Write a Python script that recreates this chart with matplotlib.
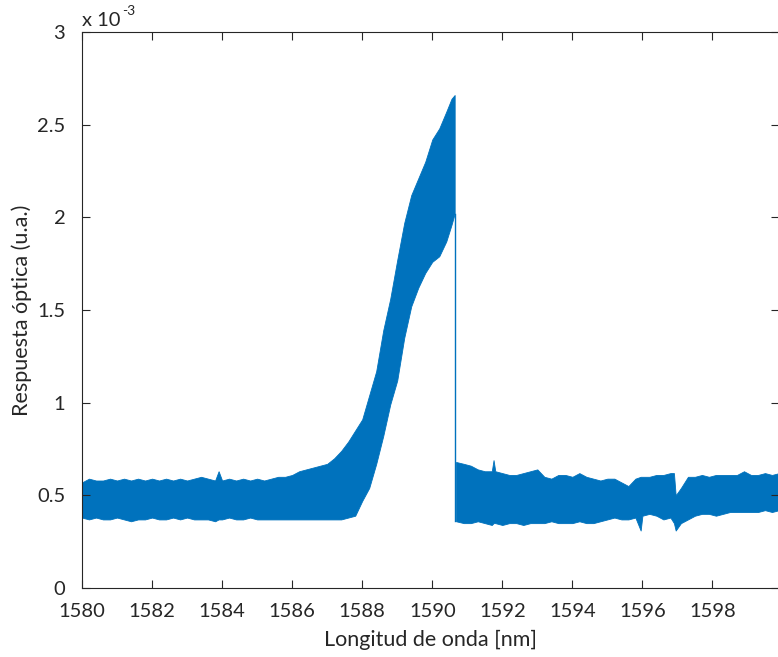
import matplotlib
matplotlib.use('Agg')
import matplotlib.pyplot as plt

plt.rcParams['font.family'] = ['Lato', 'DejaVu Sans']

# Envelope of the measured response (units of 1e-3), before the drop
wl_a = [1580.0, 1580.2, 1580.4, 1580.6, 1580.8, 1581.0, 1581.2, 1581.4, 1581.6, 1581.8,
        1582.0, 1582.2, 1582.4, 1582.6, 1582.8, 1583.0, 1583.2, 1583.4, 1583.6, 1583.8,
        1583.9, 1584.0, 1584.2, 1584.4, 1584.6, 1584.8, 1585.0, 1585.2, 1585.4, 1585.6,
        1585.8, 1586.0, 1586.2, 1586.4, 1586.6, 1586.8, 1587.0, 1587.2, 1587.4, 1587.6,
        1587.8, 1588.0, 1588.2, 1588.4, 1588.6, 1588.8, 1589.0, 1589.2, 1589.4, 1589.6,
        1589.8, 1590.0, 1590.2, 1590.4, 1590.55, 1590.64]
up_a = [0.57, 0.59, 0.58, 0.58, 0.59, 0.58, 0.59, 0.58, 0.59, 0.58,
        0.59, 0.58, 0.59, 0.58, 0.59, 0.58, 0.59, 0.60, 0.59, 0.58,
        0.63, 0.58, 0.59, 0.58, 0.59, 0.58, 0.59, 0.58, 0.59, 0.60,
        0.60, 0.61, 0.63, 0.64, 0.65, 0.66, 0.67, 0.70, 0.74, 0.79,
        0.85, 0.91, 1.04, 1.17, 1.39, 1.56, 1.77, 1.97, 2.12, 2.21,
        2.30, 2.42, 2.48, 2.57, 2.64, 2.66]
lo_a = [0.38, 0.37, 0.38, 0.37, 0.37, 0.38, 0.37, 0.36, 0.37, 0.37,
        0.38, 0.37, 0.37, 0.38, 0.37, 0.38, 0.37, 0.37, 0.37, 0.36,
        0.37, 0.37, 0.38, 0.37, 0.37, 0.38, 0.37, 0.37, 0.37, 0.37,
        0.37, 0.37, 0.37, 0.37, 0.37, 0.37, 0.37, 0.37, 0.37, 0.38,
        0.39, 0.47, 0.54, 0.67, 0.82, 0.99, 1.12, 1.35, 1.52, 1.62,
        1.70, 1.76, 1.79, 1.87, 1.96, 2.02]

# After the drop
wl_b = [1590.68, 1590.9, 1591.1, 1591.3, 1591.5, 1591.7, 1591.75, 1591.8, 1592.0, 1592.2,
        1592.4, 1592.6, 1592.8, 1593.0, 1593.2, 1593.4, 1593.6, 1593.8, 1594.0, 1594.2,
        1594.4, 1594.6, 1594.8, 1595.0, 1595.2, 1595.4, 1595.6, 1595.8, 1595.95, 1596.0,
        1596.2, 1596.4, 1596.6, 1596.8, 1596.9, 1596.95, 1597.1, 1597.3, 1597.5, 1597.7,
        1597.9, 1598.1, 1598.3, 1598.5, 1598.7, 1598.9, 1599.1, 1599.3, 1599.5, 1599.7,
        1599.9]
up_b = [0.68, 0.67, 0.66, 0.64, 0.63, 0.63, 0.69, 0.63, 0.62, 0.61,
        0.61, 0.62, 0.63, 0.64, 0.60, 0.59, 0.61, 0.61, 0.60, 0.62,
        0.60, 0.59, 0.58, 0.59, 0.59, 0.57, 0.55, 0.59, 0.60, 0.60,
        0.60, 0.61, 0.61, 0.62, 0.62, 0.50, 0.54, 0.60, 0.60, 0.61,
        0.60, 0.61, 0.61, 0.61, 0.61, 0.63, 0.61, 0.61, 0.62, 0.61,
        0.62]
lo_b = [0.36, 0.35, 0.35, 0.36, 0.35, 0.34, 0.35, 0.35, 0.34, 0.35,
        0.35, 0.34, 0.35, 0.35, 0.35, 0.36, 0.35, 0.35, 0.35, 0.36,
        0.35, 0.35, 0.36, 0.37, 0.38, 0.37, 0.37, 0.38, 0.31, 0.39,
        0.40, 0.39, 0.37, 0.38, 0.35, 0.31, 0.35, 0.37, 0.39, 0.40,
        0.40, 0.39, 0.40, 0.41, 0.41, 0.41, 0.41, 0.41, 0.42, 0.41,
        0.42]

blue = '#0072BD'
ink = '#262626'

fig = plt.figure(figsize=(7.78, 6.57), dpi=100)
ax = fig.add_axes([82/778, 69/657, 697/778, 556/657])

ax.fill_between(wl_a, lo_a, up_a, color=blue, lw=0.6, edgecolor=blue)
ax.fill_between(wl_b, lo_b, up_b, color=blue, lw=0.6, edgecolor=blue)
# sharp fall of the response
ax.plot([wl_a[-1], wl_a[-1]], [lo_b[0], lo_a[-1]], color=blue, lw=1.0)

ax.set_xlim(1580, 1599.9)
ax.set_ylim(0, 3)
ax.set_xticks(range(1580, 1599, 2))
ax.set_yticks([0, 0.5, 1, 1.5, 2, 2.5, 3])
ax.set_yticklabels(['0', '0.5', '1', '1.5', '2', '2.5', '3'])

ax.tick_params(direction='in', top=True, right=True, length=6, width=0.8,
               colors=ink, labelsize=14.5)
ax.tick_params(axis='x', pad=11)
ax.tick_params(axis='y', pad=12)
for s in ax.spines.values():
    s.set_color(ink)
    s.set_linewidth(0.8)

ax.set_xlabel('Longitud de onda [nm]', fontsize=15.5, color=ink, labelpad=7)
ax.set_ylabel('Respuesta óptica (u.a.)', fontsize=15.5, color=ink, labelpad=4)

# exponent marker in the corner, hyphen kept as plain text
ax.text(0.0, 1.005, 'x 10', transform=ax.transAxes, fontsize=14.5,
        color=ink, ha='left', va='bottom')
ax.annotate('-3', xy=(0.0, 1.005), xycoords='axes fraction',
            xytext=(29, 9), textcoords='offset points', fontsize=10,
            color=ink, ha='left', va='bottom')

fig.savefig('out.png', dpi=100)
